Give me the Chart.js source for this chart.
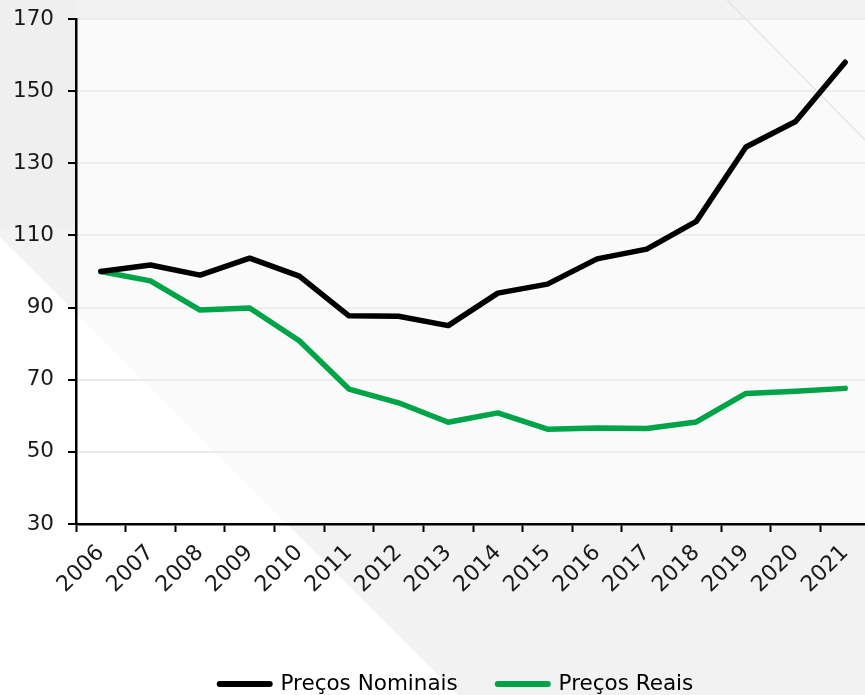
<!DOCTYPE html>
<html>
<head>
<meta charset="utf-8">
<script src="https://cdn.jsdelivr.net/npm/chart.js@4.4.1/dist/chart.umd.min.js"></script>
<style>
  html, body { margin: 0; padding: 0; background: #ffffff; overflow: hidden; }
  #wrap { width: 865px; height: 695px; position: relative; overflow: hidden; }
</style>
</head>
<body>
<div id="wrap"><canvas id="c" width="870" height="695"></canvas></div>
<script>
const categories = ['2006','2007','2008','2009','2010','2011','2012','2013','2014','2015','2016','2017','2018','2019','2020','2021'];
const nominalPrices = [100, 101.8, 99.0, 103.7, 98.7, 87.7, 87.6, 85.0, 94.0, 96.5, 103.5, 106.2, 113.9, 134.5, 141.6, 158.0];
const realPrices = [100, 97.4, 89.3, 89.9, 80.8, 67.4, 63.6, 58.2, 60.8, 56.3, 56.6, 56.5, 58.3, 66.2, 66.8, 67.6];
const seriesNames = ['Preços Nominais', 'Preços Reais'];
const yMin = 30, yMax = 170, yStep = 20;

const FONT = 'DejaVu Sans';

const bgPlugin = {
  id: 'bg',
  afterLayout(chart) {
    if (chart.legend) { chart.legend.left += 21.5; chart.legend.right += 21.5; }
  },
  beforeDraw(chart) {
    const ctx = chart.ctx, W = chart.width, H = chart.height, a = chart.chartArea;
    ctx.save();
    ctx.fillStyle = '#f2f2f2';
    ctx.fillRect(0, 0, W, H);
    ctx.fillStyle = '#efefef';
    ctx.fillRect(0, 0, a.left, 228);
    ctx.fillStyle = '#fafafa';
    ctx.fillRect(a.left, a.top, a.right - a.left, a.bottom - a.top);
    ctx.fillStyle = '#ffffff';
    ctx.beginPath();
    ctx.moveTo(0, 237);
    ctx.lineTo(458, 695);
    ctx.lineTo(0, 695);
    ctx.closePath();
    ctx.fill();
    ctx.strokeStyle = '#e6e6e6';
    ctx.lineWidth = 1.5;
    ctx.beginPath();
    ctx.moveTo(727, 0);
    ctx.lineTo(870, 145);
    ctx.stroke();
    ctx.restore();
  }
};

new Chart(document.getElementById('c'), {
  type: 'line',
  data: {
    labels: categories,
    datasets: [
      { label: seriesNames[0], data: nominalPrices, borderColor: '#000000', backgroundColor: '#000000',
        borderWidth: 5.5, pointRadius: 0, tension: 0, borderJoinStyle: 'round', borderCapStyle: 'round' },
      { label: seriesNames[1], data: realPrices, borderColor: '#00a448', backgroundColor: '#00a448',
        borderWidth: 5.5, pointRadius: 0, tension: 0, borderJoinStyle: 'round', borderCapStyle: 'round' }
    ]
  },
  options: {
    responsive: false,
    animation: false,
    devicePixelRatio: 1,
    layout: { padding: { top: 19, left: 0, right: 0, bottom: -9.75 } },
    plugins: {
      tooltip: { enabled: false },
      legend: {
        position: 'bottom',
        labels: {
          usePointStyle: true,
          pointStyleWidth: 50,
          padding: 40,
          color: '#1a1a1a',
          font: { family: FONT, size: 21.5 },
          generateLabels(chart) {
            return chart.data.datasets.map((ds, i) => ({
              text: ds.label,
              fillStyle: ds.borderColor,
              strokeStyle: ds.borderColor,
              lineWidth: 6,
              lineCap: 'round',
              pointStyle: 'line',
              hidden: false,
              datasetIndex: i
            }));
          }
        }
      }
    },
    scales: {
      x: {
        offset: true,
        grid: { offset: true, color: 'rgba(0,0,0,0)', tickColor: '#000000', tickLength: 8, tickWidth: 2, drawOnChartArea: false },
        border: { color: '#000000', width: 2.5 },
        ticks: { autoSkip: false, maxRotation: 45, minRotation: 45, padding: 8, color: '#1a1a1a', font: { family: FONT, size: 22 } },
        afterFit(scale) { scale.height = 109.25; scale.paddingLeft = 0; scale.paddingRight = 0; }
      },
      y: {
        min: yMin, max: yMax,
        grid: { color: '#ececec', lineWidth: 2, tickColor: '#000000', tickLength: 8, tickWidth: 2 },
        border: { color: '#000000', width: 2.5 },
        ticks: { stepSize: yStep, padding: 14, color: '#1a1a1a', font: { family: FONT, size: 21.5 } },
        afterFit(scale) { scale.width = 76; scale.paddingTop = 0; scale.paddingBottom = 0; }
      }
    }
  },
  plugins: [bgPlugin]
});
</script>
</body>
</html>
